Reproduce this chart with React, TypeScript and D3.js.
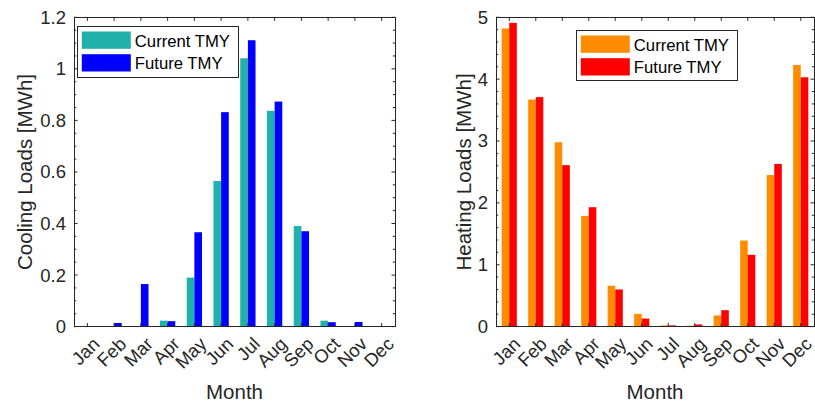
import React from "react";
import * as d3 from "d3";

const months = ["Jan", "Feb", "Mar", "Apr", "May", "Jun", "Jul", "Aug", "Sep", "Oct", "Nov", "Dec"];
const coolingCurrent = [0.001, 0.0, 0.0, 0.023, 0.19, 0.565, 1.041, 0.837, 0.39, 0.023, 0.0, 0.0];
const coolingFuture = [0.002, 0.014, 0.165, 0.021, 0.366, 0.832, 1.111, 0.873, 0.37, 0.017, 0.018, 0.002];
const heatingCurrent = [4.82, 3.67, 2.98, 1.79, 0.66, 0.205, 0.02, 0.015, 0.18, 1.39, 2.45, 4.23];
const heatingFuture = [4.91, 3.71, 2.61, 1.93, 0.6, 0.13, 0.02, 0.035, 0.265, 1.16, 2.63, 4.03];
const coolingTicks = [0, 0.2, 0.4, 0.6, 0.8, 1, 1.2];
const heatingTicks = [0, 1, 2, 3, 4, 5];
const seriesNames = ["Current TMY", "Future TMY"];

const FONT = "'Liberation Sans', Arial, Helvetica, sans-serif";
const INK = "#262626";

type PanelProps = {
  x0: number;
  x1: number;
  yTop: number;
  yBot: number;
  current: number[];
  future: number[];
  yMax: number;
  ticks: number[];
  minorStep: number;
  colors: [string, string];
  ylabel: string;
  labelX: number;
  labelShift: number;
  legend: { x: number; y: number; w: number; h: number };
};

function Panel(p: PanelProps) {
  const x = d3.scaleLinear().domain([0.5, 12.5]).range([p.x0, p.x1]);
  const y = d3.scaleLinear().domain([0, p.yMax]).range([p.yBot, p.yTop]);
  const bw = 0.2857;
  const minor = d3.range(0, p.yMax + 1e-9, p.minorStep).filter(
    (v) => !p.ticks.some((t) => Math.abs(t - v) < 1e-9)
  );
  const fmt = (v: number) => String(+v.toFixed(2));
  const majorLen = 3.5;
  const minorLen = 2.2;
  const series = [p.current, p.future];
  const lg = p.legend;
  return (
    <g>
      {series.map((vals, s) =>
        vals.map((v, i) => {
          const xl = x(i + 1 + (s === 0 ? -bw : 0));
          const xr = x(i + 1 + (s === 0 ? 0 : bw));
          return (
            <rect
              key={`b${s}-${i}`}
              x={xl}
              width={xr - xl}
              y={y(v)}
              height={p.yBot - y(v)}
              fill={p.colors[s]}
            />
          );
        })
      )}
      <rect
        x={p.x0}
        y={p.yTop}
        width={p.x1 - p.x0}
        height={p.yBot - p.yTop}
        fill="none"
        stroke={INK}
        strokeWidth={1}
        shapeRendering="crispEdges"
      />
      {months.map((m, i) => (
        <g key={`xt${i}`}>
          <line x1={x(i + 1)} x2={x(i + 1)} y1={p.yBot} y2={p.yBot - majorLen} stroke={INK} />
          <line x1={x(i + 1)} x2={x(i + 1)} y1={p.yTop} y2={p.yTop + majorLen} stroke={INK} />
          <text
            transform={`translate(${x(i + 1) + p.labelShift},${p.yBot + 18.5}) rotate(-45)`}
            textAnchor="end"
            fontSize={18.5}
            fill={INK}
            fontFamily={FONT}
          >
            {m}
          </text>
        </g>
      ))}
      {p.ticks.map((t) => (
        <g key={`yt${t}`}>
          <line x1={p.x0} x2={p.x0 + majorLen} y1={y(t)} y2={y(t)} stroke={INK} />
          <line x1={p.x1} x2={p.x1 - majorLen} y1={y(t)} y2={y(t)} stroke={INK} />
          <text
            x={p.x0 - 8}
            y={y(t)}
            dy="0.35em"
            textAnchor="end"
            fontSize={18.5}
            fill={INK}
            fontFamily={FONT}
          >
            {fmt(t)}
          </text>
        </g>
      ))}
      {minor.map((t, k) => (
        <g key={`ym${k}`}>
          <line x1={p.x0} x2={p.x0 + minorLen} y1={y(t)} y2={y(t)} stroke={INK} />
          <line x1={p.x1} x2={p.x1 - minorLen} y1={y(t)} y2={y(t)} stroke={INK} />
        </g>
      ))}
      <text
        x={(p.x0 + p.x1) / 2}
        y={399}
        textAnchor="middle"
        fontSize={20.5}
        fill={INK}
        fontFamily={FONT}
      >
        Month
      </text>
      <text
        transform={`translate(${p.labelX},${(p.yTop + p.yBot) / 2}) rotate(-90)`}
        textAnchor="middle"
        fontSize={20.5}
        fill={INK}
        fontFamily={FONT}
      >
        {p.ylabel}
      </text>
      <rect x={lg.x} y={lg.y} width={lg.w} height={lg.h} fill="#fff" stroke={INK} strokeWidth={1} shapeRendering="crispEdges" />
      {seriesNames.map((n, s) => (
        <g key={`lg${s}`}>
          <rect x={lg.x + 4.5} y={lg.y + 5.5 + s * 22.7} width={49} height={17.3} fill={p.colors[s]} />
          <text
            x={lg.x + 57.5}
            y={lg.y + 20.5 + s * 22.7}
            fontSize={16.7}
            fill="#000"
            fontFamily={FONT}
          >
            {n}
          </text>
        </g>
      ))}
    </g>
  );
}

export default function App() {
  return (
    <svg
      width={815}
      height={405}
      style={{ position: "absolute", left: 0, top: 0, background: "#fff" }}
    >
      <rect x={0} y={0} width={815} height={405} fill="#fff" />
      <Panel
        x0={74}
        x1={395}
        yTop={17.3}
        yBot={326.6}
        current={coolingCurrent}
        future={coolingFuture}
        yMax={1.2}
        ticks={coolingTicks}
        minorStep={0.05}
        colors={["#20B2AA", "#0000FF"]}
        ylabel="Cooling Loads [MWh]"
        labelX={31.5}
        labelShift={13.3}
        legend={{ x: 77.3, y: 26, w: 161, h: 51 }}
      />
      <Panel
        x0={496}
        x1={814}
        yTop={17.3}
        yBot={326.6}
        current={heatingCurrent}
        future={heatingFuture}
        yMax={5}
        ticks={heatingTicks}
        minorStep={0.2}
        colors={["#FF8C00", "#FF0000"]}
        ylabel="Heating Loads [MWh]"
        labelX={471}
        labelShift={12.2}
        legend={{ x: 576.3, y: 30, w: 161, h: 50.7 }}
      />
    </svg>
  );
}
